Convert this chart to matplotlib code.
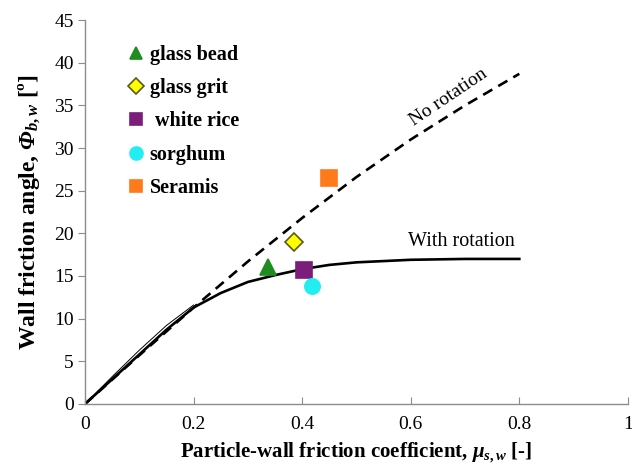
import matplotlib
matplotlib.use("Agg")
import matplotlib.pyplot as plt

plt.rcParams["font.family"] = ["Liberation Serif", "DejaVu Serif"]
plt.rcParams["mathtext.fontset"] = "custom"
plt.rcParams["mathtext.rm"] = "Liberation Serif:bold"
plt.rcParams["mathtext.it"] = "Liberation Serif:italic:bold"
plt.rcParams["mathtext.sf"] = "Liberation Serif:italic:bold"

# model curves
mu_no_rot = [0.0, 0.1, 0.2, 0.3, 0.4, 0.5, 0.6, 0.7, 0.8]
phi_no_rot = [0.0, 5.7, 11.3, 16.7, 21.8, 26.6, 31.0, 35.0, 38.7]

mu_rot = [0.0, 0.05, 0.1, 0.15, 0.2, 0.25, 0.3, 0.35, 0.4, 0.45, 0.5, 0.6, 0.7, 0.8]
phi_rot = [0.0, 2.9, 5.8, 8.7, 11.3, 13.0, 14.3, 15.1, 15.8, 16.3, 16.6, 16.9, 17.0, 17.0]

# thin trace near the origin
mu_trace = [0.0, 0.05, 0.1, 0.15, 0.2]
phi_trace = [0.0, 3.2, 6.3, 9.2, 11.6]

# measured materials
materials = ["glass bead", "glass grit", " white rice", "sorghum", "Seramis"]
mu_meas = [0.337, 0.385, 0.403, 0.418, 0.449]
phi_meas = [16.0, 19.0, 15.7, 13.8, 26.5]
markers = ["^", "D", "s", "o", "s"]
faces = ["#1e8c1e", "#ffff00", "#7b1e7b", "#22eef2", "#ff7a1a"]
edges = ["#1e8c1e", "#5a5a20", "#7b1e7b", "#22eef2", "#ff7a1a"]
sizes = [11, 9.5, 11, 11, 11]

fig = plt.figure(figsize=(6.32, 4.67), dpi=100)
ax = fig.add_axes([0.1345, 0.135, 0.859, 0.822])

ax.plot(mu_no_rot, phi_no_rot, color="black", lw=1.9, dashes=(4, 2.6))
ax.plot(mu_trace, phi_trace, color="black", lw=0.7)
ax.plot(mu_rot, phi_rot, color="black", lw=1.9)

for name, x, y, m, fc, ec, ms in zip(materials, mu_meas, phi_meas, markers, faces, edges, sizes):
    ax.plot([x], [y], linestyle="none", marker=m, markersize=ms,
            markerfacecolor=fc, markeredgecolor=ec, markeredgewidth=1.2, label=name)

ax.text(0.67, 36.0, "No rotation", fontsize=14, rotation=34, ha="center", va="center")
ax.text(0.694, 19.0, "With rotation", fontsize=14.5, ha="center", va="center")

leg = ax.legend(loc="upper left", bbox_to_anchor=(0.036, 0.983), frameon=False,
                prop={"weight": "bold", "size": 14.5}, labelspacing=0.66,
                handletextpad=0.05, handlelength=1.3, markerscale=0.85)

ax.set_xlim(0, 1)
ax.set_ylim(0, 45)
ax.set_xticks([0, 0.2, 0.4, 0.6, 0.8, 1])
ax.set_xticklabels(["0", "0.2", "0.4", "0.6", "0.8", "1"])
ax.set_yticks(range(0, 50, 5))

for side in ["top", "right"]:
    ax.spines[side].set_visible(False)
for side in ["left", "bottom"]:
    ax.spines[side].set_color("#8c8c8c")
    ax.spines[side].set_linewidth(1.0)

ax.tick_params(axis="x", direction="in", length=5, color="#8c8c8c", labelsize=14, pad=9)
ax.tick_params(axis="y", direction="out", length=5, color="#8c8c8c", labelsize=14, pad=3)

ax.set_xlabel(r"Particle-wall friction coefficient, $\mu_{s,w}$ [-]",
              fontsize=15, fontweight="bold", labelpad=5)
ax.set_ylabel(r"Wall friction angle, $\mathsf{\Phi}_{b,w}$ [º]",
              fontsize=17, fontweight="bold", labelpad=9)

fig.savefig("out.png", dpi=100)
